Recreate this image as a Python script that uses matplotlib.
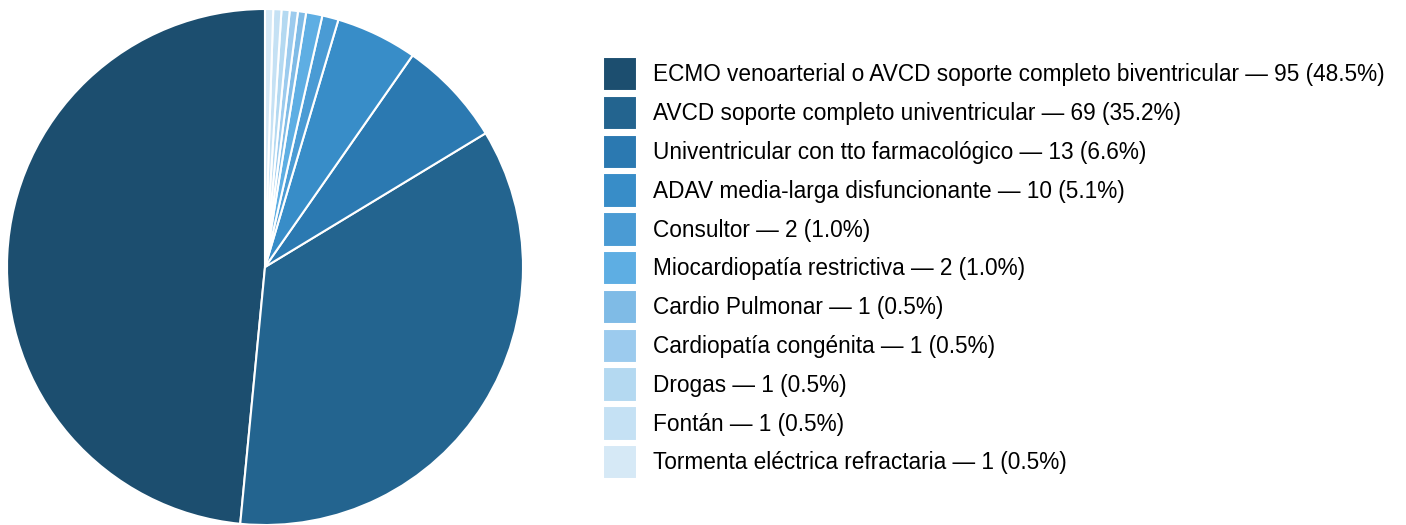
import matplotlib
matplotlib.use("Agg")
import matplotlib.pyplot as plt

categories = [
    "ECMO venoarterial o AVCD soporte completo biventricular",
    "AVCD soporte completo univentricular",
    "Univentricular con tto farmacológico",
    "ADAV media-larga disfuncionante",
    "Consultor",
    "Miocardiopatía restrictiva",
    "Cardio Pulmonar",
    "Cardiopatía congénita",
    "Drogas",
    "Fontán",
    "Tormenta eléctrica refractaria",
]
counts = [95, 69, 13, 10, 2, 2, 1, 1, 1, 1, 1]
colors = [
    "#1c4e6f", "#23648f", "#2b79b1", "#388dc8", "#4a9bd4", "#5eaee3",
    "#7fbbe6", "#9ccbee", "#b4d9f1", "#c5e1f4", "#d6e9f6",
]

plt.rcParams["font.family"] = ["Liberation Sans", "DejaVu Sans"]

W, H = 1406, 525
fig = plt.figure(figsize=(W / 100, H / 100), dpi=100)

# pie area: square box on the left
ax = fig.add_axes([7 / W, 0 / H, 516 / W, 516 / H])
wedges, _ = ax.pie(
    counts,
    colors=colors,
    startangle=90,
    counterclock=True,
    wedgeprops=dict(edgecolor="white", linewidth=1.5),
    radius=1.0,
)
ax.set_xlim(-1, 1)
ax.set_ylim(-1, 1)
ax.set_aspect("equal")
ax.axis("off")

total = sum(counts)
labels = [f"{c} — {n} ({n / total * 100:.1f}%)" for c, n in zip(categories, counts)]

fs = 16.3
fig.legend(
    wedges,
    labels,
    loc="upper left",
    bbox_to_anchor=(603 / W, 1 - 57 / H),
    frameon=False,
    fontsize=fs,
    handlelength=1.5,
    handleheight=1.96,
    handletextpad=0.71,
    labelspacing=0.195,
    borderpad=0,
    borderaxespad=0,
)

fig.savefig("out.png", dpi=100)
